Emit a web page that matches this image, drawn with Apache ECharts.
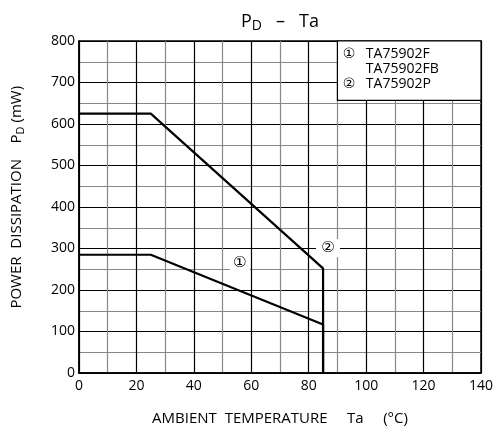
<!DOCTYPE html>
<html>
<head>
<meta charset="utf-8">
<script src="https://cdn.jsdelivr.net/npm/echarts@6/dist/echarts.min.js"></script>
<style>
html, body { margin: 0; padding: 0; background: #fff; }
#pd_chart { width: 494px; height: 426px; }
</style>
</head>
<body>
<div id="pd_chart"></div>
<script type="text/javascript">
// 曲线数据 (Ta, Pd)
var curve1Ta = [0, 25, 85, 85];
var curve1Pd = [285, 285, 117, 0];
var curve2Ta = [0, 25, 85, 85];
var curve2Pd = [625, 625, 252, 0];
var legendMarks = ['①', '', '②'];
var legendNames = ['TA75902F', 'TA75902FB', 'TA75902P'];
var legendBox = [[90, 657], [140, 800]];
var tag1 = [56, 265];
var tag2 = [86.7, 301];

var FONT = '"Open Sans", "DejaVu Sans", "Noto Sans CJK JP", sans-serif';

function pairs(xs, ys) {
	var list = [];
	for (var i = 0; i < xs.length; i++) {
		list.push([xs[i], ys[i]]);
	}
	return list;
}

// 图例文字
var legendText = [];
for (var i = 0; i < legendNames.length; i++) {
	legendText.push('{c|' + legendMarks[i] + '}{t|' + legendNames[i] + '}');
}

var pdChart = echarts.init(document.getElementById('pd_chart'));
var options = {
	backgroundColor: '#fff',
	animation: false,
	textStyle: { fontFamily: FONT, color: '#000' },
	title: {
		left: 236,
		top: 5,
		text: '{p|P}{s|D}{p|   –   Ta}',
		textStyle: {
			fontWeight: 'normal',
			rich: {
				p: { fontSize: 18, fontFamily: FONT, color: '#000', fontWeight: 'normal' },
				s: { fontSize: 14, fontFamily: FONT, color: '#000', fontWeight: 'normal', padding: [9, 0, 0, 0] }
			}
		}
	},
	grid: {
		left: 79, right: 13, top: 41, bottom: 53,
		outerBoundsMode: 'none',
		show: true, borderColor: '#000', borderWidth: 1.5
	},
	xAxis: {
		type: 'value',
		min: 0, max: 140, interval: 10,
		name: 'AMBIENT  TEMPERATURE     Ta     (°C)',
		nameLocation: 'middle',
		nameGap: 38,
		nameTextStyle: { fontSize: 15, fontFamily: FONT, color: '#000' },
		axisLine: { lineStyle: { color: '#000', width: 1.5 } },
		axisTick: { show: false },
		axisLabel: {
			fontSize: 14, color: '#000', margin: 6,
			formatter: function (v) { return v % 20 === 0 ? String(v) : ''; }
		},
		splitLine: { show: true, lineStyle: { color: ['#000', '#888'], width: 1.2 } }
	},
	yAxis: {
		type: 'value',
		min: 0, max: 800, interval: 50,
		name: '{t|     POWER  DISSIPATION    P}{s|D}{t| (mW)}',
		nameLocation: 'middle',
		nameGap: 53,
		nameTextStyle: {
			rich: {
				t: { fontSize: 15, fontFamily: FONT, color: '#000' },
				s: { fontSize: 11, fontFamily: FONT, color: '#000', padding: [7, 0, 0, 0] }
			}
		},
		axisLine: { show: true, lineStyle: { color: '#000', width: 1.5 } },
		axisTick: { show: false },
		axisLabel: {
			fontSize: 14, color: '#000', margin: 4,
			formatter: function (v) { return v % 100 === 0 ? String(v) : ''; }
		},
		splitLine: { show: true, lineStyle: { color: ['#000', '#888'], width: 1.2 } }
	},
	series: [
		{
			name: '1',
			type: 'line',
			data: pairs(curve1Ta, curve1Pd),
			symbol: 'none',
			lineStyle: { color: '#000', width: 2.2 },
			markPoint: {
				symbol: 'rect', symbolSize: [20, 18],
				itemStyle: { color: '#fff' },
				label: { show: true, position: 'inside', formatter: '①', fontSize: 15, color: '#000', fontFamily: FONT },
				data: [{ coord: tag1 }]
			},
			markArea: {
				silent: true,
				itemStyle: { color: '#fff', borderColor: '#000', borderWidth: 1.2 },
				label: {
					show: true,
					position: 'insideTopLeft',
					distance: 6,
					formatter: legendText.join('\n'),
					rich: {
						c: { fontSize: 14, lineHeight: 15, width: 23, color: '#000', fontFamily: FONT },
						t: { fontSize: 14, lineHeight: 15, color: '#000', fontFamily: FONT }
					}
				},
				data: [[{ coord: legendBox[0] }, { coord: legendBox[1] }]]
			}
		},
		{
			name: '2',
			type: 'line',
			data: pairs(curve2Ta, curve2Pd),
			symbol: 'none',
			lineStyle: { color: '#000', width: 2.2 },
			markPoint: {
				symbol: 'rect', symbolSize: [24, 18],
				itemStyle: { color: '#fff' },
				label: { show: true, position: 'inside', formatter: '②', fontSize: 15, color: '#000', fontFamily: FONT },
				data: [{ coord: tag2 }]
			}
		}
	]
};
pdChart.setOption(options);
</script>
</body>
</html>
